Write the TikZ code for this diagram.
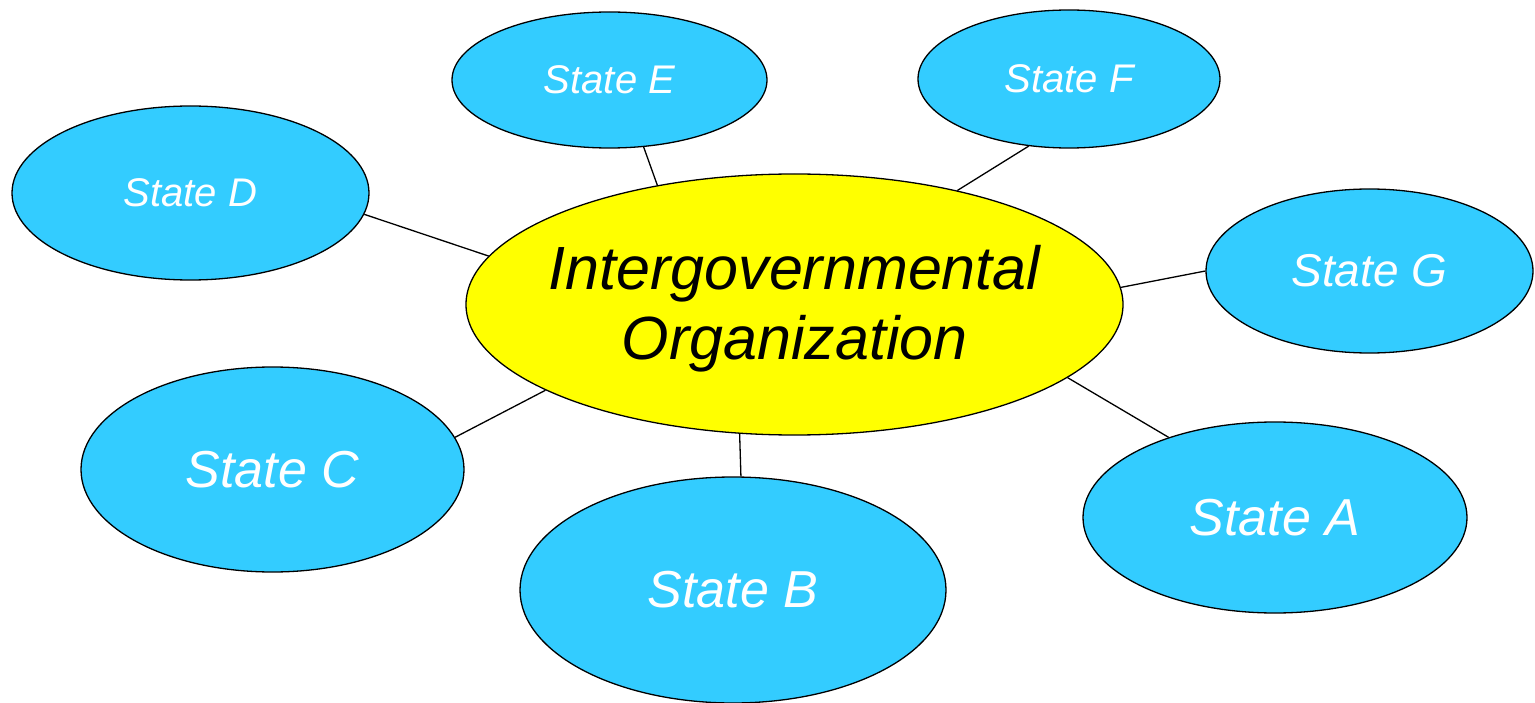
\documentclass[tikz,border=0pt]{standalone}
\usepackage{fontspec}
\setmainfont{Liberation Sans}
\usetikzlibrary{shapes.geometric}
\definecolor{stcyan}{HTML}{33CCFF}
\definecolor{igyellow}{HTML}{FFFF00}
\begin{document}
\begin{tikzpicture}[x=1pt,y=-1pt,
  blob/.style={ellipse, draw=black, line width=1.3pt, inner sep=0pt},
  statebox/.style={blob, fill=stcyan, text=white},
  small/.style={font=\fontsize{40}{48}\selectfont\itshape},
  mid/.style={font=\fontsize{46}{54}\selectfont\itshape},
  big/.style={font=\fontsize{52}{60}\selectfont\itshape},
  link/.style={draw=black, line width=1.3pt}]
\useasboundingbox (0,0) rectangle (1535,703);
\node[blob, fill=igyellow, minimum width=657pt, minimum height=261pt,
  label={[align=center, inner sep=0pt, font=\fontsize{61}{70}\selectfont\itshape, yshift=-4pt]center:Intergovernmental\\Organization}] (IG) at (794.5,304.5) {};
\node[statebox, small, minimum width=315pt, minimum height=136pt] (E) at (609.5,80) {State E};
\node[statebox, small, minimum width=302pt, minimum height=138pt] (F) at (1069,79) {State F};
\node[statebox, small, minimum width=357pt, minimum height=174pt] (D) at (190.5,193) {State D};
\node[statebox, mid, minimum width=327pt, minimum height=164pt] (G) at (1369.5,271) {State G};
\node[statebox, big, minimum width=383pt, minimum height=205pt] (C) at (272.5,469.5) {State C};
\node[statebox, big, minimum width=426pt, minimum height=226pt] (B) at (733,590) {State B};
\node[statebox, big, minimum width=384pt, minimum height=191pt] (A) at (1275,517.5) {State A};
\draw[link] (D.-7.3) -- (IG.171);
\draw[link] (E.-63) -- (IG.139.2);
\draw[link] (F.239.9) -- (IG.35.5);
\draw[link] (G.180) -- (IG.3.4);
\draw[link] (A.143.4) -- (IG.-15.5);
\draw[link] (B.86.5) -- (IG.247.1);
\draw[link] (C.10.7) -- (IG.199.95);
\end{tikzpicture}
\end{document}
